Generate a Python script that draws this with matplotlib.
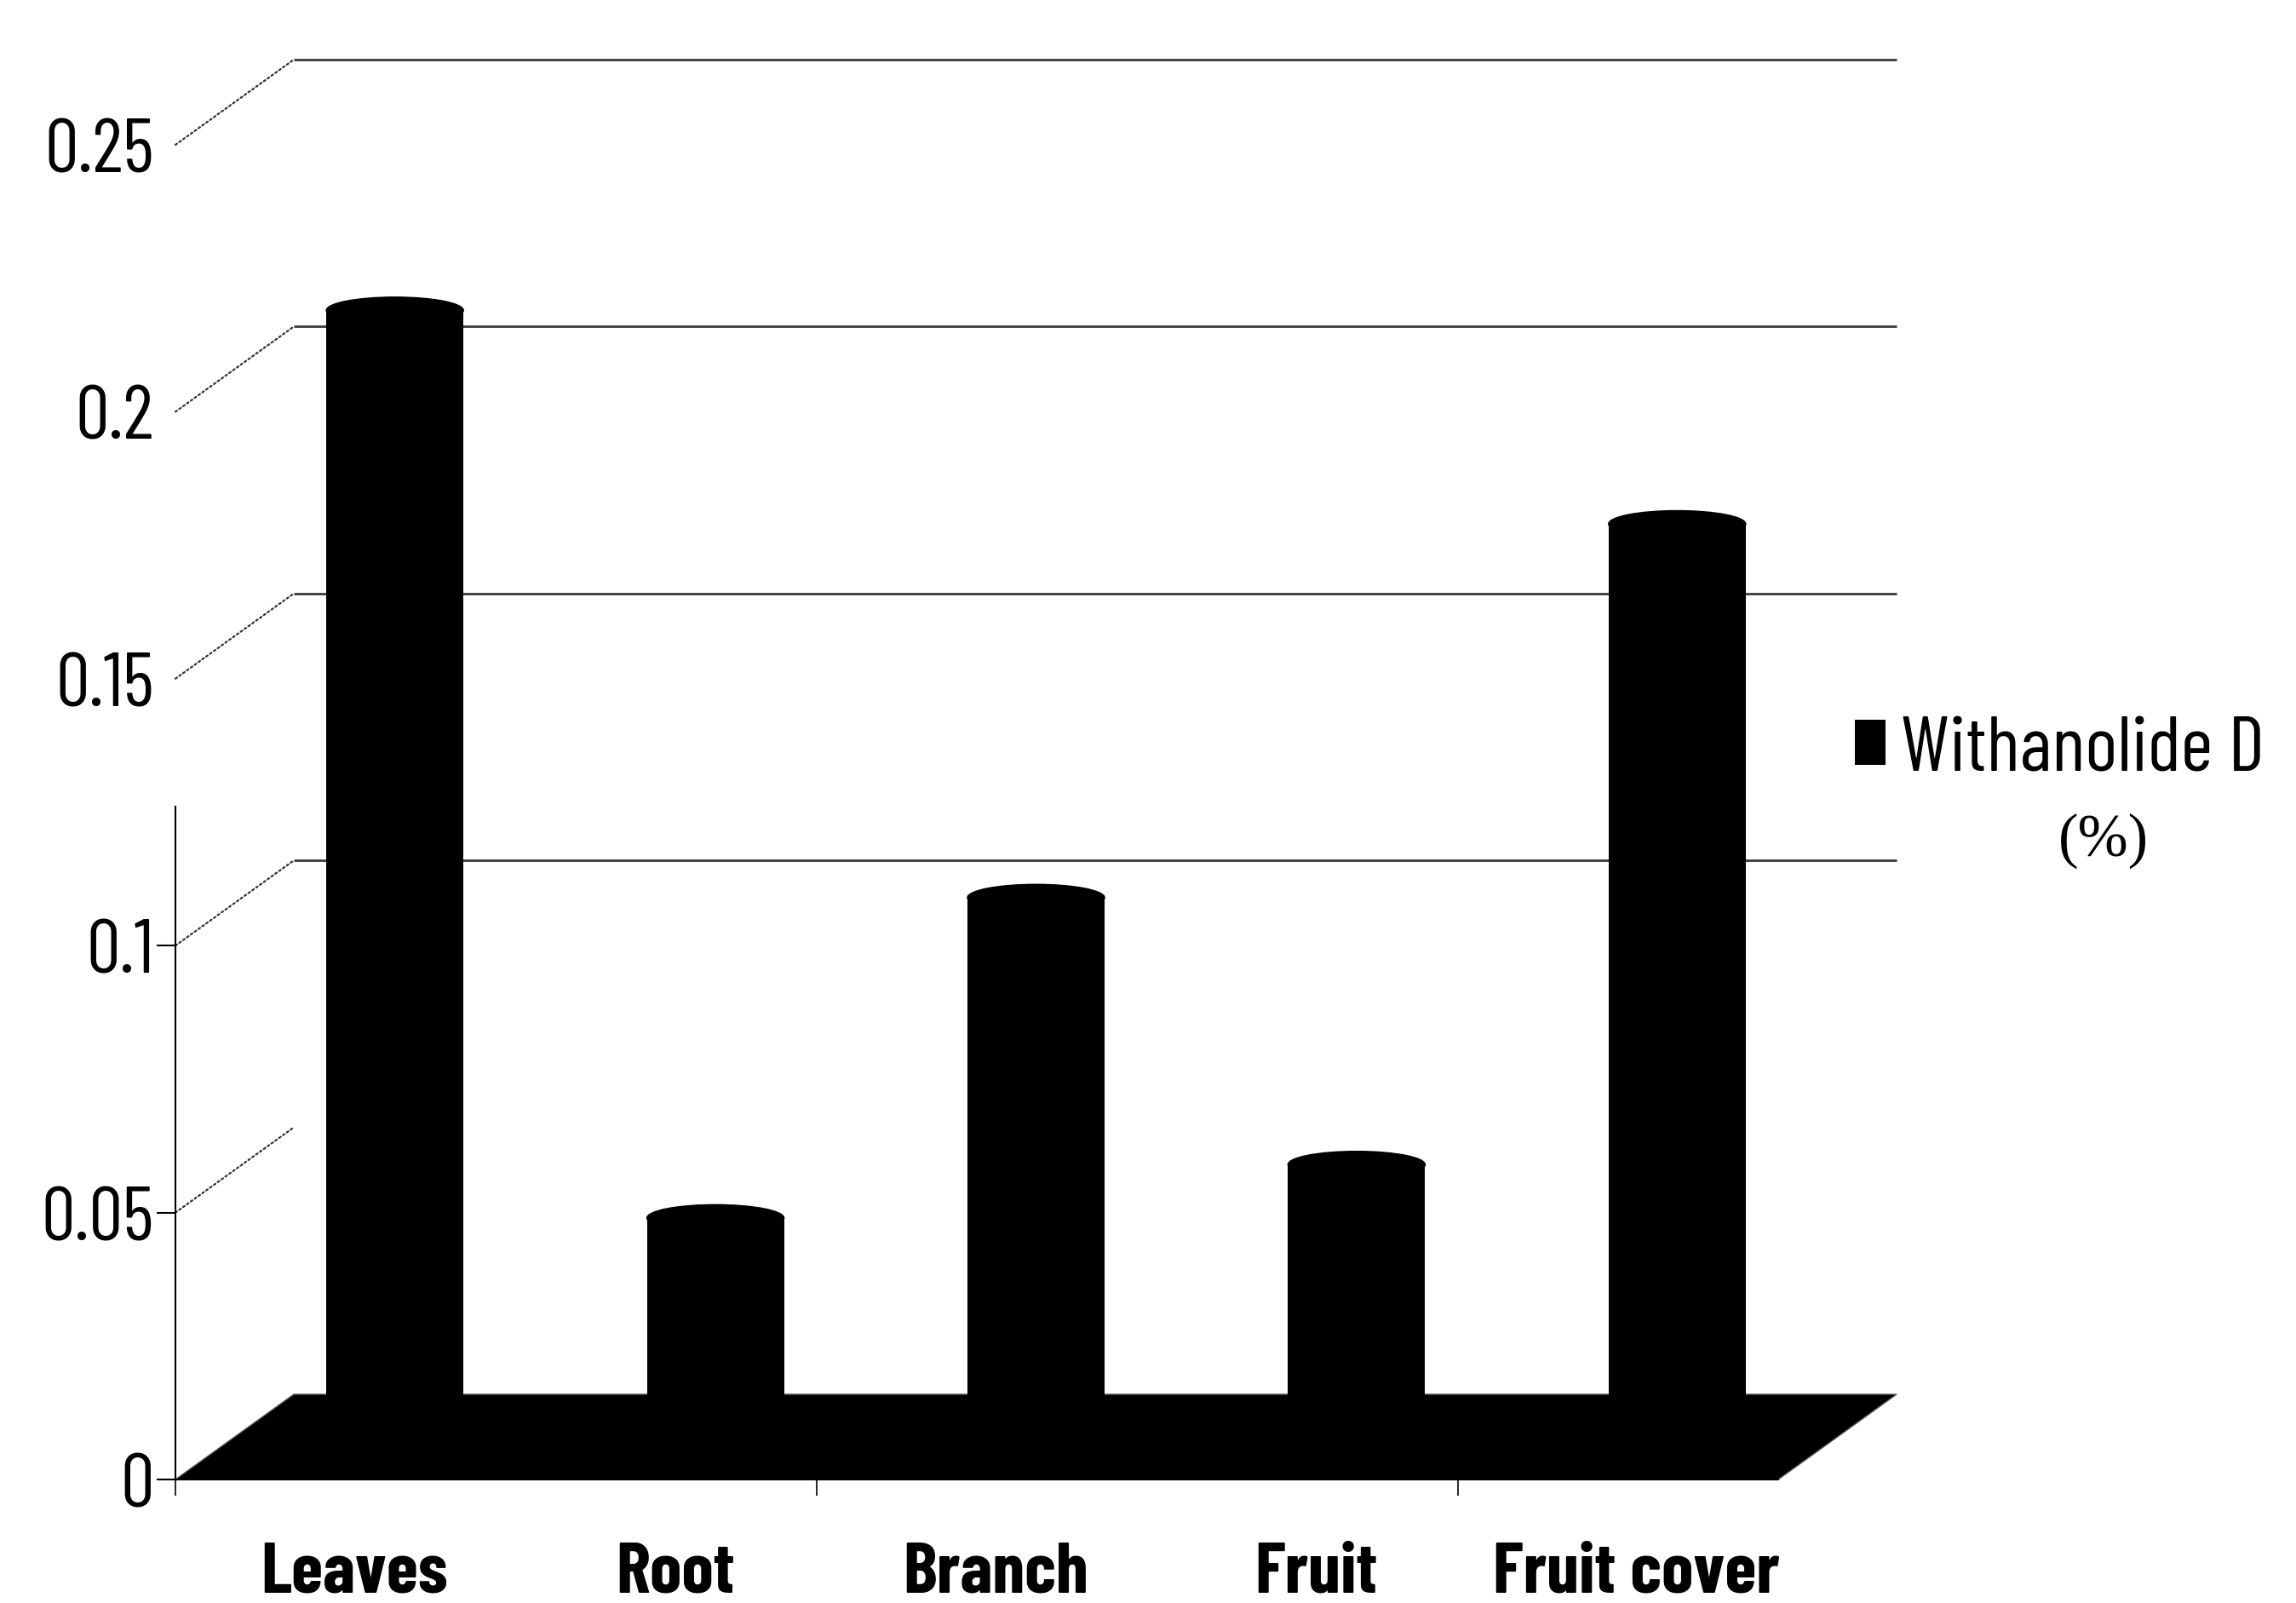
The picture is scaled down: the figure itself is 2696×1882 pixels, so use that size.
import matplotlib.pyplot as plt
import matplotlib.transforms as mtransforms
from matplotlib.patches import Polygon, Ellipse, ConnectionPatch

parts = ['Leaves', 'Root', 'Branch', 'Fruit', 'Fruit cover']
withanolide_d = [0.211, 0.041, 0.101, 0.051, 0.171]
y_ticks = [0, 0.05, 0.1, 0.15, 0.2, 0.25]
y_tick_labels = ['0', '0.05', '0.1', '0.15', '0.2', '0.25']
grid_levels = [0.1, 0.15, 0.2, 0.25]

W, H = 2696, 1883
NARROW = ['Barlow Condensed', 'DejaVu Sans']

fig = plt.figure(figsize=(W / 100, H / 100), dpi=100)


def px_axes(left, bottom, width=1882, height=1567):
    # box given in pixels, bottom measured from the top edge of the figure
    return fig.add_axes([left / W, (H - bottom) / H, width / W, height / H])


# three planes of the fake 3D box: back wall, bar depth, front axis
ax_back = px_axes(345, 1638)
ax_mid = px_axes(275.5, 1688)
ax_front = px_axes(206, 1738)
for z, ax in enumerate([ax_back, ax_mid, ax_front]):
    ax.set_xlim(-0.5, 4.5)
    ax.set_ylim(0, 0.25)
    ax.set_zorder(z * 2 + 1)
    ax.patch.set_visible(False)
ax_back.axis('off')
ax_mid.axis('off')

# back wall gridlines
ax_back.hlines(grid_levels, -0.5, 4.5, color='#3a3a3a', lw=2, clip_on=False)


def to_fig(ax, x, y):
    return fig.transFigure.inverted().transform(ax.transData.transform((x, y)))


# black floor
floor = Polygon([to_fig(ax_front, -0.5, 0), to_fig(ax_front, 4.5, 0),
                 to_fig(ax_back, 4.5, 0), to_fig(ax_back, -0.5, 0)],
                closed=True, transform=fig.transFigure,
                facecolor='black', edgecolor='#555555', lw=1, zorder=2)
fig.add_artist(floor)

# dotted lines joining the front ticks to the back wall
for v in y_ticks[1:]:
    con = ConnectionPatch(xyA=(-0.5, v), coordsA=ax_front.transData,
                          xyB=(-0.5, v), coordsB=ax_back.transData,
                          ls=(0, (1, 1.5)), lw=1.6, color='#333333', zorder=2)
    fig.add_artist(con)

# columns
x = range(len(parts))
bw = 0.428
bars = ax_mid.bar(x, withanolide_d, width=bw, color='black', zorder=2)
for xi, v in zip(x, withanolide_d):
    ax_mid.add_patch(Ellipse((xi, v), bw, 0.005, color='black', zorder=2,
                             clip_on=False))

# front axis
for s in ['top', 'right']:
    ax_front.spines[s].set_visible(False)
ax_front.spines['left'].set_bounds(0, 0.126)
ax_front.spines['left'].set_linewidth(1.5)
ax_front.spines['bottom'].set_linewidth(1.5)
ax_front.set_yticks(y_ticks, y_tick_labels)
ax_front.tick_params(axis='y', length=16, width=1.5, pad=2, labelsize=64)
for tick in ax_front.yaxis.get_major_ticks():
    if tick.get_loc() > 0.12:
        tick.tick1line.set_visible(False)
for lab in ax_front.get_yticklabels():
    lab.set_family(NARROW)

ax_front.set_xticks(list(x), parts)
ax_front.set_xticks([-0.5, 1.5, 3.5], minor=True)
ax_front.tick_params(axis='x', which='major', length=0, pad=52, labelsize=61)
ax_front.tick_params(axis='x', which='minor', length=14, width=1.2)
# category names sit a little right of the front slot centres
shift = mtransforms.ScaledTranslation(0.22, 0, fig.dpi_scale_trans)
for lab in ax_front.get_xticklabels():
    lab.set_family(NARROW)
    lab.set_fontweight('bold')
    lab.set_transform(lab.get_transform() + shift)

# legend
fig.legend([bars], ['Withanolide D'], loc='center left',
           bbox_to_anchor=(2178 / W, 1 - 882 / H), frameon=False,
           prop={'family': NARROW, 'size': 66},
           handlelength=0.39, handleheight=0.51, handletextpad=0.2,
           borderpad=0, borderaxespad=0)
fig.text(2470 / W, 1 - 987 / H, '(%)', family='Liberation Serif', size=51,
         ha='center', va='center')

fig.savefig('out.png', dpi=100)
